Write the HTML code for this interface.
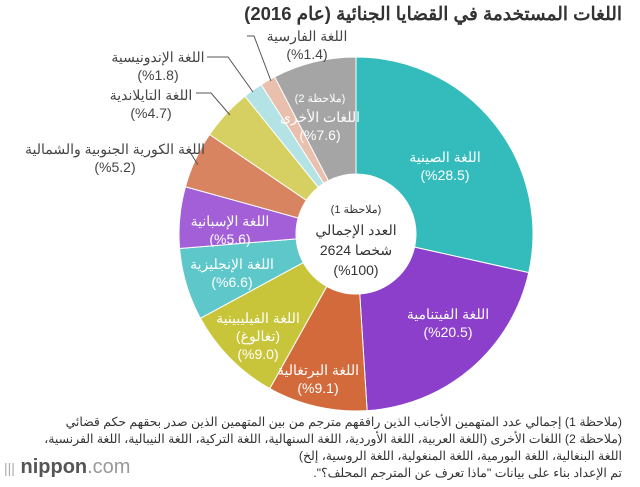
<!DOCTYPE html>
<html><head><meta charset="utf-8"><style>
body{margin:0;width:640px;height:487px;background:#fff;font-family:"Liberation Sans","Noto Sans CJK SC",sans-serif;overflow:hidden;position:relative}
.t{position:absolute;white-space:nowrap;text-align:center;font-size:14px;line-height:18px;color:#444;transform:translateX(-50%)}
.w{color:#fff}
</style></head><body>
<div style="position:absolute;right:18px;top:3px;font-size:18.5px;font-weight:bold;color:#333;direction:rtl;white-space:nowrap">اللغات المستخدمة في القضايا الجنائية (عام 2016)</div>
<svg id="c" width="640" height="487" style="position:absolute;left:0;top:0">
<g id="sl"></g>
<g stroke="#555" stroke-width="1" fill="none">
<polyline points="247,36 254,36 271,81"/>
<polyline points="207,57 228,57 253,92"/>
<polyline points="196,93 211,93 230,115"/>
<polyline points="190,152 198,165"/>
</g>
</svg>
<div class="t" style="left:307px;top:27px">اللغة الفارسية<br>(%1.4)</div>
<div class="t" style="left:158px;top:48px">اللغة الإندونيسية<br>(%1.8)</div>
<div class="t" style="left:151px;top:86px">اللغة التايلاندية<br>(%4.7)</div>
<div class="t" style="left:115px;top:140px">اللغة الكورية الجنوبية والشمالية<br>(%5.2)</div>
<div class="t w" style="left:320px;top:88px;line-height:18px"><span style="font-size:11px">(ملاحظة 2)</span><br>اللغات الأخرى<br>(%7.6)</div>
<div class="t w" style="left:445px;top:148px">اللغة الصينية<br>(%28.5)</div>
<div class="t w" style="left:448px;top:305px">اللغة الفيتنامية<br>(%20.5)</div>
<div class="t w" style="left:318px;top:361px">اللغة البرتغالية<br>(%9.1)</div>
<div class="t w" style="left:258px;top:309px">اللغة الفيليبينية<br>(تغالوغ)<br>(%9.0)</div>
<div class="t w" style="left:232px;top:255px">اللغة الإنجليزية<br>(%6.6)</div>
<div class="t w" style="left:230px;top:212px">اللغة الإسبانية<br>(%5.6)</div>
<div class="t" style="left:356px;top:198px;color:#333;font-size:14px;line-height:20px"><span style="font-size:11px">(ملاحظة 1)</span><br>العدد الإجمالي<br>2624 شخصا<br>(%100)</div>
<div style="position:absolute;right:18px;top:414px;direction:rtl;text-align:right;font-size:12.4px;line-height:17px;color:#333;white-space:nowrap">(ملاحظة 1) إجمالي عدد المتهمين الأجانب الذين رافقهم مترجم من بين المتهمين الذين صدر بحقهم حكم قضائي<br>(ملاحظة 2) اللغات الأخرى (اللغة العربية، اللغة الأوردية، اللغة السنهالية، اللغة التركية، اللغة النيبالية، اللغة الفرنسية،<br>اللغة البنغالية، اللغة البورمية، اللغة المنغولية، اللغة الروسية، إلخ)<br>تم الإعداد بناء على بيانات "ماذا تعرف عن المترجم المحلف؟".</div>
<div style="position:absolute;left:4px;top:456px;font-size:20px;color:#555;white-space:nowrap"><span style="color:#aaa;font-size:14px">|||</span> <b>nippon</b><span style="color:#999">.com</span></div>
<script>
const categories=["Chinese","Vietnamese","Portuguese","Filipino","English","Spanish","Korean","Thai","Indonesian","Persian","Other"];
const shares=[28.5,20.5,9.1,9.0,6.6,5.6,5.2,4.7,1.8,1.4,7.6];
const colors=["#34bcbd","#8b3fcb","#d26a3c","#c9c53b","#5dc7c9","#a35fd8","#d98461","#d6d062","#b4e3e6","#e9bfae","#a5a5a5"];
const cx=356,cy=234,R=177,r=60;
const g=document.getElementById('sl');
const tot=shares.reduce((a,b)=>a+b,0);
function pt(a,rad){return [cx+rad*Math.sin(a),cy-rad*Math.cos(a)];}
let a0=0;
shares.forEach((v,i)=>{
 const a1=a0+v/tot*2*Math.PI;
 const L=(a1-a0)>Math.PI?1:0;
 const [x0,y0]=pt(a0,R),[x1,y1]=pt(a1,R),[x2,y2]=pt(a1,r),[x3,y3]=pt(a0,r);
 const p=document.createElementNS('http://www.w3.org/2000/svg','path');
 p.setAttribute('d',`M${x0},${y0}A${R},${R} 0 ${L} 1 ${x1},${y1}L${x2},${y2}A${r},${r} 0 ${L} 0 ${x3},${y3}Z`);
 p.setAttribute('fill',colors[i]);
 p.setAttribute('stroke','#fff');p.setAttribute('stroke-width','1');
 
 
 g.appendChild(p);
 a0=a1;
});
</script>
</body></html>
